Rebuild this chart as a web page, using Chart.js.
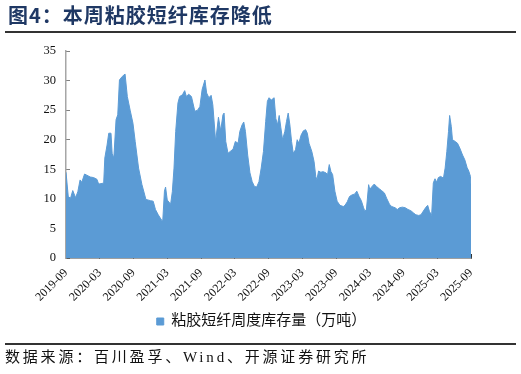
<!DOCTYPE html>
<html>
<head>
<meta charset="utf-8">
<script src="https://cdn.jsdelivr.net/npm/chart.js@4.4.1/dist/chart.umd.min.js"></script>
<style>
  body { margin: 0; background: #fff; }
  #wrap { position: relative; width: 521px; height: 374px; overflow: hidden; }
  #title {
    position: absolute; left: 8px; top: 3px; white-space: nowrap;
    font: bold 20px "Noto Sans CJK SC"; letter-spacing: 1px; line-height: 24px; color: #1F3864;
  }
  .rule { position: absolute; left: 5px; width: 511px; height: 2px; background: #333; }
  #source {
    position: absolute; left: 5px; top: 347px; white-space: nowrap;
    font: 15px "Liberation Serif", "Noto Sans CJK SC"; letter-spacing: 2.8px; line-height: 20px; color: #111;
  }
  canvas { position: absolute; left: 0; top: 0; }
</style>
</head>
<body>
<div id="wrap">
  <canvas id="chart" width="521" height="374"></canvas>
  <div id="title">图4：本周粘胶短纤库存降低</div>
  <div class="rule" style="top:31px"></div>
  <div class="rule" style="top:343px"></div>
  <div id="source">数据来源：百川盈孚、Wind、开源证券研究所</div>
</div>
<script>
  // === DATA: months since 2019-09, weekly stock (万吨) ===
  const xLabels = ["2019-09", "2020-03", "2020-09", "2021-03", "2021-09", "2022-03", "2022-09",
                   "2023-03", "2023-09", "2024-03", "2024-09", "2025-03", "2025-09"];
  const seriesName = "粘胶短纤周度库存量（万吨）";
  const yTicks = [0, 5, 10, 15, 20, 25, 30, 35];

  const months = [
    0.0, 0.4, 0.8, 1.2, 1.7, 2.1, 2.5, 2.8, 3.3, 3.7, 4.3, 4.9, 5.5, 5.8, 6.4, 6.7, 6.9, 7.3, 7.6, 8.0,
    8.2, 8.5, 8.9, 9.2, 9.5, 10.0, 10.5, 10.9, 11.4, 11.9, 12.3, 12.9, 13.5, 13.9, 14.2, 15.0, 15.5, 15.9, 16.4, 17.0,
    17.2, 17.5, 17.7, 18.0, 18.6, 18.9, 19.2, 19.5, 19.9, 20.2, 20.7, 21.1, 21.4, 21.8, 22.3, 22.9, 23.4, 23.8, 24.2, 24.7,
    25.0, 25.4, 25.8, 26.1, 26.6, 27.1, 27.5, 27.9, 28.1, 28.4, 28.8, 29.3, 29.7, 30.1, 30.6, 30.9, 31.3, 31.6, 31.9, 32.3,
    32.7, 33.1, 33.5, 33.9, 34.3, 34.7, 35.1, 35.5, 35.8, 36.1, 36.5, 37.0, 37.3, 37.6, 37.9, 38.2, 38.5, 38.9, 39.2, 39.5,
    39.8, 40.1, 40.4, 40.8, 41.1, 41.4, 41.8, 42.2, 42.6, 42.9, 43.2, 43.7, 44.1, 44.4, 44.6, 44.9, 45.3, 45.7, 46.2, 46.5,
    46.8, 47.1, 47.4, 47.8, 48.2, 48.7, 49.3, 49.6, 50.0, 50.4, 50.9, 51.3, 51.7, 52.1, 52.5, 52.9, 53.1, 53.4, 53.8, 54.0,
    54.4, 54.8, 55.2, 55.7, 56.1, 56.6, 57.0, 57.5, 57.9, 58.5, 58.9, 59.3, 59.8, 60.3, 60.8, 61.3, 61.8, 62.2, 62.7, 63.1,
    63.5, 64.0, 64.3, 64.6, 65.0, 65.3, 65.6, 65.9, 66.2, 66.6, 67.1, 67.4, 67.7, 68.0, 68.2, 68.5, 68.7, 69.2, 69.6, 70.0,
    70.5, 70.9, 71.3, 71.6, 71.9, 72.0
  ];
  const stock = [
    14.5, 10.4, 10.1, 11.4, 10.2, 11.2, 13.2, 12.8, 14.2, 14.0, 13.7, 13.6, 13.3, 12.5, 12.6, 12.7, 16.9, 19.1, 21.1, 21.1,
    17.7, 16.9, 23.4, 24.2, 30.1, 30.7, 31.1, 27.3, 25.0, 22.8, 19.7, 15.2, 12.4, 11.0, 9.9, 9.7, 9.6, 8.2, 7.3, 6.4,
    6.3, 11.3, 12.0, 9.8, 9.1, 11.2, 15.2, 21.4, 26.2, 27.3, 27.6, 28.3, 27.3, 27.7, 27.3, 24.8, 25.0, 25.6, 28.5, 30.1,
    27.9, 27.1, 27.5, 25.9, 19.7, 23.8, 21.5, 24.2, 24.5, 19.7, 17.7, 18.1, 18.4, 19.7, 19.4, 21.4, 22.5, 23.0, 21.4, 17.4,
    14.4, 12.9, 12.1, 12.0, 12.9, 15.2, 18.0, 23.1, 26.5, 27.1, 26.7, 27.1, 23.6, 22.5, 24.1, 22.0, 20.0, 21.4, 23.1, 24.5,
    22.5, 19.7, 17.7, 18.3, 20.0, 19.4, 20.8, 21.5, 21.7, 21.1, 19.4, 18.0, 16.3, 13.8, 13.2, 14.7, 14.5, 14.6, 14.4, 14.1,
    15.8, 14.6, 14.1, 11.3, 9.6, 8.9, 8.7, 8.9, 9.5, 10.4, 10.7, 10.8, 11.3, 10.4, 9.7, 8.5, 8.0, 8.1, 12.4, 11.6,
    12.1, 12.5, 12.1, 11.7, 11.4, 11.0, 10.1, 9.1, 8.7, 8.5, 8.2, 8.5, 8.6, 8.5, 8.2, 8.0, 7.6, 7.3, 7.2, 7.3,
    7.9, 8.6, 8.9, 7.9, 7.2, 12.7, 13.4, 12.8, 13.6, 13.8, 13.5, 15.2, 18.0, 21.4, 24.1, 22.2, 20.0, 19.7, 19.4, 18.6,
    17.4, 16.6, 15.3, 14.7, 13.8, 12.4
  ];

  const points = months.map((m, i) => ({ x: m, y: stock[i] }));
  const serif = "'Liberation Serif', 'Noto Sans CJK SC'";

  // shift the legend a bit to the right, like the original
  const legendShift = {
    id: "legendShift",
    afterLayout(chart) {
      chart.legend.left += 26;
      chart.legend.right += 26;
    }
  };

  new Chart(document.getElementById("chart"), {
    type: "line",
    data: {
      datasets: [{
        label: seriesName,
        data: points,
        backgroundColor: "#5B9BD5",
        borderColor: "#5B9BD5",
        borderWidth: 1,
        fill: "origin",
        tension: 0,
        pointRadius: 0
      }]
    },
    options: {
      responsive: false,
      animation: false,
      layout: { padding: { top: 51, left: 0, right: 50, bottom: 35 } },
      plugins: {
        tooltip: { enabled: false },
        legend: {
          position: "bottom",
          labels: { boxWidth: 7, boxHeight: 7, color: "#111", font: { family: serif, size: 15 } }
        }
      },
      scales: {
        x: {
          type: "linear",
          min: 0, max: 72,
          z: 1,
          afterFit: s => { s.height = 46; },
          afterBuildTicks: s => { s.ticks = xLabels.map((_, i) => ({ value: i * 6 })); },
          border: { color: "#404040", width: 1.5 },
          grid: { drawOnChartArea: false, tickLength: -4, color: "#333", lineWidth: 1 },
          ticks: {
            minRotation: 45, maxRotation: 45, padding: 12, autoSkip: false,
            color: "#111", font: { family: serif, size: 12 },
            callback: v => xLabels[Math.round(v / 6)]
          }
        },
        y: {
          min: 0, max: 35,
          z: 1,
          afterFit: s => { s.width = 66; },
          afterBuildTicks: s => { s.ticks = yTicks.map(v => ({ value: v })); },
          border: { color: "#A6A6A6", width: 1.5 },
          grid: { drawOnChartArea: false, tickLength: -4, color: "#808080", lineWidth: 1 },
          ticks: { padding: 14, color: "#111", font: { family: serif, size: 12.5 } }
        }
      }
    },
    plugins: [legendShift]
  });
</script>
</body>
</html>
